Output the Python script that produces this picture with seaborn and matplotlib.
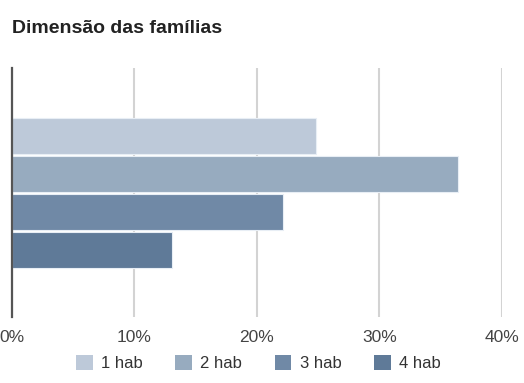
import matplotlib
matplotlib.use("Agg")
import matplotlib.pyplot as plt
import seaborn as sns
import pandas as pd
from matplotlib.ticker import FuncFormatter

title = "Dimensão das famílias"
category = "Famílias"
series = ["1 hab", "2 hab", "3 hab", "4 hab"]
values = [24.8, 36.4, 22.1, 13.1]
colors = ["#bdc9d9", "#97abbf", "#7089a6", "#5f7a98"]
xticks = [0, 10, 20, 30, 40]

df = pd.DataFrame({"cat": [category] * len(series), "serie": series, "valor": values})

sns.set_theme(style="white")
plt.rcParams["font.family"] = ["Liberation Sans", "DejaVu Sans"]

fig = plt.figure(figsize=(5.24, 3.83), dpi=100)
ax = fig.add_axes([0.0229, 0.172, 0.935, 0.650])

sns.barplot(data=df, y="cat", x="valor", hue="serie", hue_order=series,
            palette=colors, saturation=1, orient="h", width=0.61, gap=0.05,
            edgecolor="#e8eef5", linewidth=0.8, ax=ax, legend=False, zorder=3)

ax.set_xlim(0, 40)
ax.set_ylim(0.5, -0.5)
ax.set_xticks(xticks)
ax.xaxis.set_major_formatter(FuncFormatter(lambda v, p: f"{int(v)}%"))
ax.set_yticks([])
ax.set_xlabel("")
ax.set_ylabel("")
ax.grid(axis="x", color="#d3d3d3", linewidth=1.5, zorder=0)
for s in ["top", "right", "bottom"]:
    ax.spines[s].set_visible(False)
ax.spines["left"].set_color("#555555")
ax.spines["left"].set_linewidth(1.6)
ax.spines["left"].set_zorder(5)
ax.tick_params(axis="x", length=0, pad=9, labelsize=12.5, labelcolor="#444444")
ax.set_axisbelow(True)

fig.text(0.0229, 0.925, title, fontsize=14, fontweight="bold", color="#222222",
         ha="left", va="center")

handles = [plt.Rectangle((0, 0), 1, 1, facecolor=c, edgecolor="none") for c in colors]
fig.legend(handles, series, loc="center", bbox_to_anchor=(0.493, 0.053), ncol=4,
           frameon=False, fontsize=12, handlelength=1.0, handleheight=1.0,
           handletextpad=0.5, columnspacing=1.95, labelcolor="#333333")

fig.savefig("out.png", dpi=100)
